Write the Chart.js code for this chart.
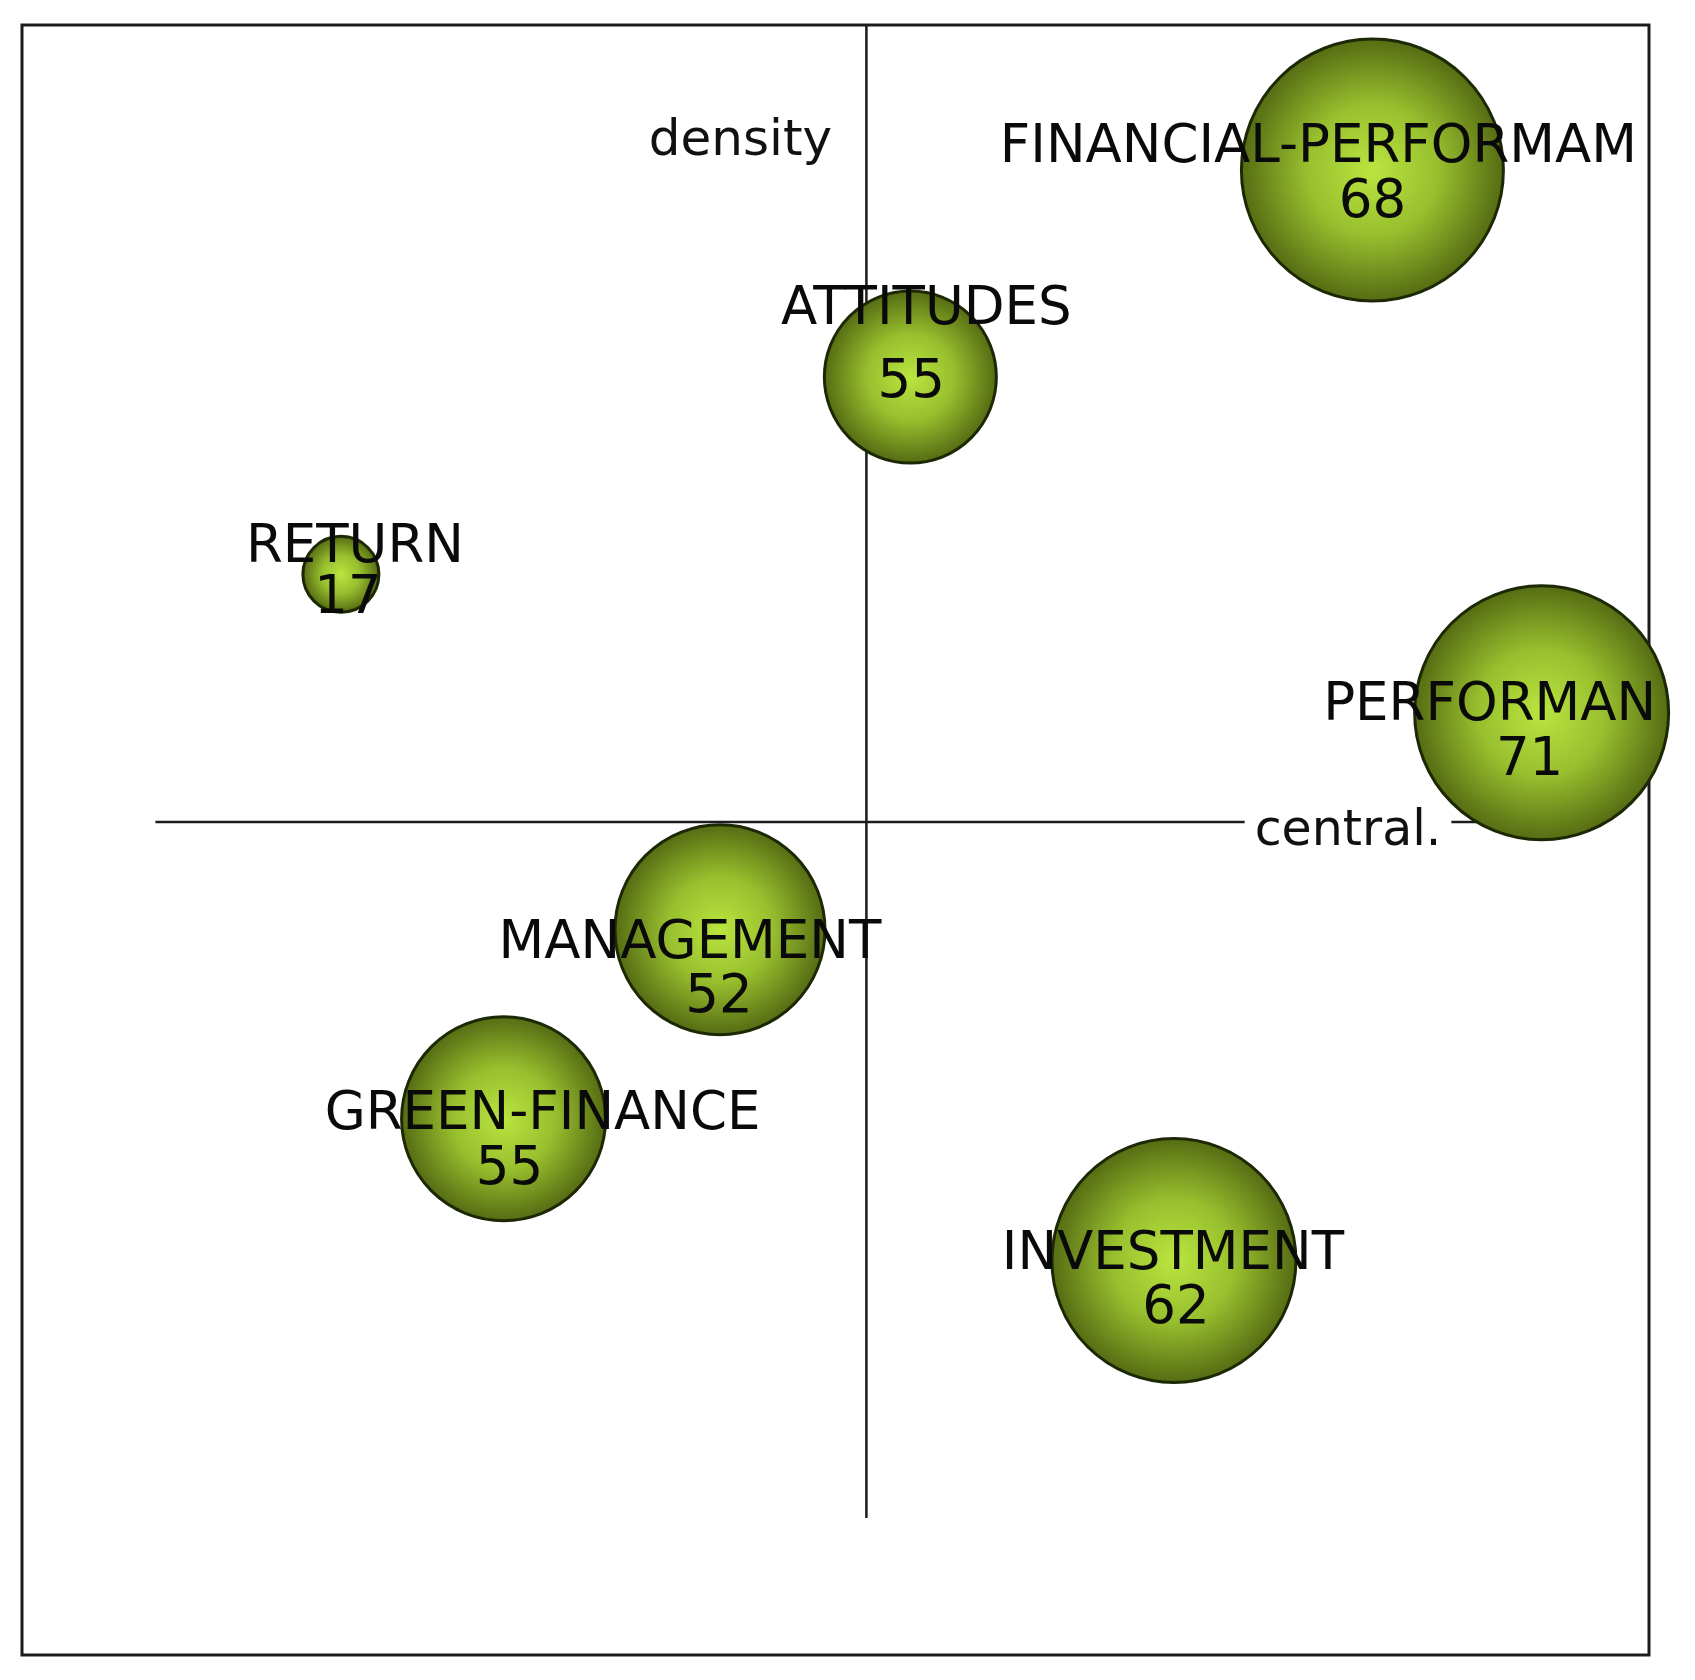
<!DOCTYPE html>
<html>
<head>
<meta charset="utf-8">
<script src="https://cdn.jsdelivr.net/npm/chart.js@4.4.1/dist/chart.umd.min.js"></script>
<style>
  html, body { margin: 0; padding: 0; background: #fff; }
  #wrap { width: 1695px; height: 1680px; }
</style>
</head>
<body>
<div id="wrap"><canvas id="diagram" width="1695" height="1680"></canvas></div>
<script>
// strategic diagram data
const themes = ['FINANCIAL-PERFORMAM', 'ATTITUDES', 'RETURN', 'PERFORMAN', 'MANAGEMENT', 'GREEN-FINANCE', 'INVESTMENT'];
const centrality = [31.1, 2.7, -32.3, 41.5, -9.0, -22.3, 18.9];
const density = [40.0, 27.3, 15.2, 6.7, -6.6, -18.2, -26.9];
const sphereSize = [131, 86, 38, 127, 105, 102, 122];
const counts = [68, 55, 17, 71, 52, 55, 62];
const axisNames = ['central.', 'density'];

// where the names / counts sit, px from the sphere centre
const nameOffset = [[-54, -8], [16, -53], [14, -12], [-52, 7], [-30, 28], [39, 10], [-1, 8]];
const countOffset = [[0, 47], [1, 20], [7, 39], [-12, 62], [-1, 82], [6, 65], [2, 62]];

const FONT = '"DejaVu Sans", Verdana, sans-serif';

function sphereFill(c) {
  const chart = c.chart;
  const i = c.dataIndex;
  if (!chart.chartArea || i === undefined || !chart.scales.x) return '#8db32a';
  const x = chart.scales.x.getPixelForValue(centrality[i]);
  const y = chart.scales.y.getPixelForValue(density[i]);
  const r = sphereSize[i];
  const g = chart.ctx.createRadialGradient(x, y, 0, x, y, r);
  g.addColorStop(0, '#bae53f');
  g.addColorStop(0.5, '#98bf2e');
  g.addColorStop(1, '#566c13');
  return g;
}

const frameAndAxes = {
  id: 'frameAndAxes',
  beforeDatasetsDraw(chart) {
    const { ctx, chartArea: a, scales: { x, y } } = chart;
    const x0 = x.getPixelForValue(0);
    const y0 = y.getPixelForValue(0);
    ctx.save();
    ctx.strokeStyle = '#1c1c1c';
    ctx.lineWidth = 3;
    ctx.strokeRect(a.left, a.top, a.right - a.left, a.bottom - a.top);

    ctx.lineWidth = 2.5;
    ctx.beginPath();
    ctx.moveTo(x0, a.top);
    ctx.lineTo(x0, y.getPixelForValue(-42.7));
    ctx.moveTo(x.getPixelForValue(-43.7), y0);
    ctx.lineTo(x.getPixelForValue(43.7), y0);
    ctx.stroke();

    ctx.font = '49px ' + FONT;
    ctx.textAlign = 'center';
    ctx.textBaseline = 'alphabetic';
    const cx = x.getPixelForValue(29.6);
    const w = ctx.measureText(axisNames[0]).width;
    ctx.fillStyle = '#fff';
    ctx.fillRect(cx - w / 2 - 10, y0 - 6, w + 20, 12);
    ctx.fillStyle = '#111';
    ctx.fillText(axisNames[0], cx, y0 + 23);
    ctx.font = '50px ' + FONT;
    ctx.fillText(axisNames[1], x0 - 126, a.top + 130);
    ctx.restore();
  },
  afterDatasetsDraw(chart) {
    const { ctx, scales: { x, y } } = chart;
    ctx.save();
    ctx.font = '53px ' + FONT;
    ctx.fillStyle = '#0a0a0a';
    ctx.textAlign = 'center';
    ctx.textBaseline = 'alphabetic';
    themes.forEach((name, i) => {
      const px = x.getPixelForValue(centrality[i]);
      const py = y.getPixelForValue(density[i]);
      ctx.fillText(name, px + nameOffset[i][0], py + nameOffset[i][1]);
      ctx.fillText(String(counts[i]), px + countOffset[i][0], py + countOffset[i][1]);
    });
    ctx.restore();
  }
};

new Chart(document.getElementById('diagram'), {
  type: 'bubble',
  data: {
    datasets: [{
      data: themes.map((t, i) => ({ x: centrality[i], y: density[i], r: sphereSize[i] })),
      backgroundColor: sphereFill,
      borderColor: '#1d2804',
      borderWidth: 3,
      clip: false
    }]
  },
  options: {
    responsive: false,
    animation: false,
    events: [],
    layout: { autoPadding: false, padding: { left: 22, top: 25, right: 46, bottom: 25 } },
    plugins: { legend: { display: false }, tooltip: { enabled: false } },
    scales: {
      x: { type: 'linear', min: -51.9, max: 48.1, display: false },
      y: { type: 'linear', min: -51.1, max: 48.9, display: false }
    }
  },
  plugins: [frameAndAxes]
});
</script>
</body>
</html>
